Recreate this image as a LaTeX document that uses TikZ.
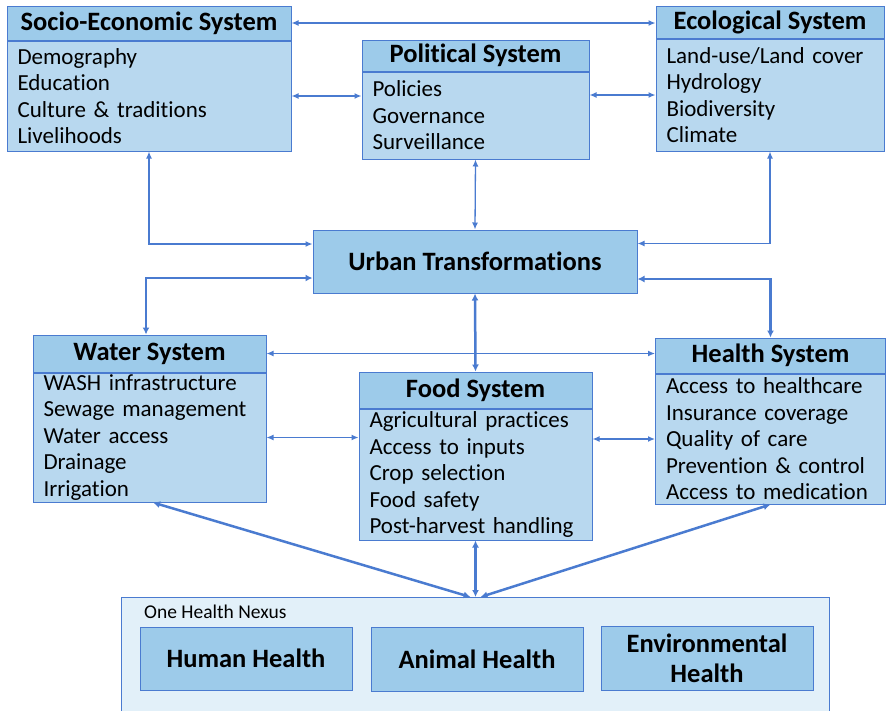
\documentclass[tikz,border=0pt]{standalone}
\usepackage{fontspec}
\setmainfont{Carlito}[Ligatures=NoCommon]
\usepackage{tikz}
\usetikzlibrary{positioning}
\usetikzlibrary{arrows.meta}
\definecolor{lineblue}{HTML}{4A7BD0}
\definecolor{headfill}{HTML}{9DCBEA}
\definecolor{bodyfill}{HTML}{B8D8EF}
\definecolor{nexusfill}{HTML}{E2F0F9}
\tikzstyle{head} = [draw=lineblue,fill=headfill,line width=1pt,inner sep=0pt,font=\bfseries\fontsize{26.5}{30}\selectfont]
\tikzstyle{body} = [draw=lineblue,fill=bodyfill,line width=1pt,inner xsep=10pt,inner ysep=0pt,align=left,font=\fontsize{23}{26.5}\selectfont]
\tikzstyle{link} = [lineblue,line width=1.3pt,{Latex[length=7pt,width=6pt]}-{Latex[length=7pt,width=6pt]}]
\tikzstyle{biglink} = [lineblue,line width=2.5pt,{Latex[length=7pt,width=7pt]}-{Latex[length=7pt,width=7pt]}]

\begin{document}
\begin{tikzpicture}[x=1pt,y=-1pt]
	\useasboundingbox (0,0) rectangle (886,710);
	\clip (0,0) rectangle (886,710);

	%Nodes
	\node [head,minimum width=284pt,minimum height=34pt] (socio) at (149,23) {Socio-Economic System};
	\node [body,minimum width=284pt,minimum height=110pt,text width=263pt,below=0pt of socio] (sociobody) {Demography\\Education\\Culture \& traditions\\Livelihoods};

	\node [head,minimum width=227pt,minimum height=31pt] (pol) at (475.5,55.5) {Political System};
	\node [body,minimum width=227pt,minimum height=87pt,text width=206pt,below=0pt of pol] (polbody) {Policies\\Governance\\Surveillance};

	\node [head,minimum width=228pt,minimum height=32pt] (eco) at (770,22) {Ecological System};
	\node [body,minimum width=228pt,minimum height=112pt,text width=207pt,below=0pt of eco] (ecobody) {Land-use/Land cover\\Hydrology\\Biodiversity\\Climate};

	\node [head,minimum width=324pt,minimum height=63pt] (urban) at (475,261.5) {Urban Transformations};

	\node [head,minimum width=233pt,minimum height=37pt] (water) at (149.5,353.5) {Water System};
	\node [body,minimum width=233pt,minimum height=129pt,text width=212pt,below=0pt of water] (waterbody) {WASH infrastructure\\Sewage management\\Water access\\Drainage\\Irrigation};

	\node [head,minimum width=233pt,minimum height=36pt] (food) at (475.5,390) {Food System};
	\node [body,minimum width=233pt,minimum height=131pt,text width=212pt,below=0pt of food] (foodbody) {Agricultural practices\\Access to inputs\\Crop selection\\Food safety\\Post-harvest handling};

	\node [head,minimum width=230pt,minimum height=35pt] (health) at (770.5,355.5) {Health System};
	\node [body,minimum width=230pt,minimum height=130pt,text width=209pt,below=0pt of health] (healthbody) {Access to healthcare\\Insurance coverage\\Quality of care\\Prevention \& control\\Access to medication};

	\node [draw=lineblue,fill=nexusfill,line width=1pt,minimum width=708pt,minimum height=120pt,anchor=north west] (nexus) at (121,597) {};
	\node [anchor=west,inner sep=0pt,font=\fontsize{19.5}{22}\selectfont] (nexuslabel) at (144,612) {One Health Nexus};
	\node [head,minimum width=212pt,minimum height=63pt] (human) at (246,658.5) {Human Health};
	\node [head,minimum width=212pt,minimum height=64pt] (animal) at (477,659) {Animal Health};
	\node [head,minimum width=212pt,minimum height=64pt,align=center,font=\bfseries\fontsize{26.5}{30}\selectfont] (env) at (707,658) {Environmental\\Health};

	%Lines
	\draw[link] (socio.east) -- (socio.east -| eco.west);
	\draw[link] (sociobody.east) -- (sociobody.east -| polbody.west);
	\draw[link] (ecobody.west) -- (ecobody.west -| polbody.east);
	\draw[link] (sociobody.south) |- ([yshift=17.5pt]urban.west);
	\draw[link] (polbody.south) -- (urban.north);
	\draw[link] (ecobody.south) |- ([yshift=18pt]urban.east);
	\draw[biglink] ([yshift=-16.5pt]urban.west) -| ([xshift=-3.5pt]water.north);
	\draw[biglink] ([yshift=-17.5pt]urban.east) -| (health.north);
	\draw[biglink] (urban.south) -- (food.north);
	\draw[link] (water.east) -- (water.east -| health.west);
	\draw[link] (waterbody.east) -- (waterbody.east -| foodbody.west);
	\draw[link] (healthbody.west) -- (healthbody.west -| foodbody.east);
	\draw[biglink] ([xshift=3.5pt]waterbody.south) -- ([xshift=-5pt]nexus.north);
	\draw[biglink] (foodbody.south) -- (nexus.north);
	\draw[biglink] (healthbody.south) -- ([xshift=5pt]nexus.north);

\end{tikzpicture}
\end{document}
